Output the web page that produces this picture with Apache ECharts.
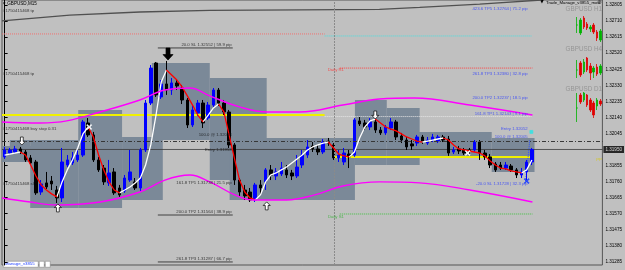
<!DOCTYPE html>
<html>
<head>
<meta charset="utf-8">
<script src="https://cdn.jsdelivr.net/npm/echarts@6/dist/echarts.min.js"></script>
<style>
  html, body { margin: 0; padding: 0; background: #c0c0c0; }
  #chart { width: 625px; height: 270px; }
</style>
</head>
<body>
<div id="chart"></div>
<script>
// GBPUSD M15 candles: [open, close, low, high]
const candles = [
  [1.31906,1.31947,1.31894,1.31965],[1.31929,1.31947,1.31917,1.31959],[1.31935,1.31953,1.31923,1.31971],
  [1.31953,1.31935,1.31923,1.31965],[1.31935,1.31888,1.31876,1.31947],[1.31900,1.31870,1.31858,1.31917],
  [1.31876,1.31693,1.31681,1.31888],[1.31698,1.31746,1.31681,1.31769],[1.31752,1.31728,1.31716,1.31817],
  [1.31763,1.31746,1.31710,1.31793],[1.31710,1.31663,1.31633,1.31734],[1.31663,1.31876,1.31639,1.31959],
  [1.31858,1.31888,1.31846,1.31917],[1.31870,1.31900,1.31858,1.31935],[1.31888,1.31917,1.31876,1.31947],
  [1.31917,1.32113,1.31906,1.32125],[1.32107,1.32036,1.32024,1.32136],[1.32036,1.31888,1.31876,1.32054],
  [1.31888,1.31829,1.31817,1.31906],[1.31840,1.31758,1.31740,1.31858],[1.31752,1.31811,1.31734,1.31888],
  [1.31817,1.31693,1.31681,1.31840],[1.31722,1.31681,1.31669,1.31740],[1.31704,1.31781,1.31693,1.31799],
  [1.31769,1.31817,1.31758,1.31947],[1.31758,1.31722,1.31710,1.31781],[1.31722,1.31947,1.31704,1.31959],
  [1.31947,1.32225,1.31935,1.32243],[1.32225,1.32432,1.32213,1.32450],[1.32462,1.32273,1.32261,1.32468],
  [1.32261,1.32338,1.32249,1.32361],[1.32338,1.32302,1.32273,1.32474],[1.32302,1.32344,1.32273,1.32373],
  [1.32344,1.32326,1.32302,1.32361],[1.32314,1.32243,1.32219,1.32332],[1.32243,1.32095,1.32077,1.32255],
  [1.32095,1.32184,1.32083,1.32213],[1.32166,1.32225,1.32148,1.32243],[1.32225,1.32107,1.32077,1.32243],
  [1.32136,1.32213,1.32125,1.32231],[1.32213,1.32302,1.32202,1.32314],[1.32302,1.32225,1.32208,1.32314],
  [1.32225,1.32172,1.32154,1.32243],[1.32172,1.31977,1.31959,1.32184],[1.31977,1.31769,1.31740,1.31988],
  [1.31769,1.31698,1.31675,1.31781],[1.31710,1.31675,1.31651,1.31740],[1.31698,1.31651,1.31639,1.31722],
  [1.31651,1.31740,1.31639,1.31752],[1.31740,1.31722,1.31681,1.31769],[1.31758,1.31829,1.31710,1.31840],
  [1.31829,1.31799,1.31769,1.31858],[1.31793,1.31817,1.31769,1.31840],[1.31805,1.31840,1.31793,1.31876],
  [1.31829,1.31799,1.31781,1.31858],[1.31811,1.31793,1.31769,1.31829],[1.31793,1.31846,1.31781,1.31917],
  [1.31858,1.31917,1.31840,1.31947],[1.31917,1.31965,1.31900,1.32006],[1.31971,1.31953,1.31935,1.31994],
  [1.31953,1.31935,1.31917,1.31977],[1.31935,1.31994,1.31923,1.32012],[1.32000,1.31988,1.31971,1.32018],
  [1.31977,1.31900,1.31888,1.31988],[1.31900,1.31917,1.31876,1.31947],[1.31876,1.31929,1.31858,1.31959],
  [1.31923,1.31906,1.31840,1.31947],[1.31917,1.32125,1.31906,1.32136],[1.32119,1.32101,1.32089,1.32142],
  [1.32107,1.32083,1.32065,1.32125],[1.32083,1.32113,1.32065,1.32136],[1.32113,1.32065,1.32048,1.32148],
  [1.32065,1.32048,1.32036,1.32083],[1.32048,1.32083,1.32036,1.32095],[1.32077,1.32113,1.32065,1.32136],
  [1.32113,1.32024,1.32006,1.32125],[1.32030,1.32006,1.31988,1.32048],[1.32006,1.31965,1.31947,1.32024],
  [1.31983,1.31971,1.31947,1.32006],[1.31988,1.32024,1.31971,1.32036],[1.32024,1.32000,1.31983,1.32036],
  [1.31988,1.32006,1.31977,1.32024],[1.32006,1.32024,1.31994,1.32042],[1.32000,1.32024,1.31988,1.32036],
  [1.32024,1.32006,1.31994,1.32036],[1.32012,1.31929,1.31912,1.32030],[1.31935,1.31947,1.31923,1.31965],
  [1.31953,1.31941,1.31923,1.31971],[1.31947,1.31929,1.31917,1.31959],[1.31947,1.31941,1.31923,1.31959],
  [1.31947,1.31994,1.31935,1.32006],[1.31994,1.31929,1.31888,1.32006],[1.31929,1.31906,1.31888,1.31947],
  [1.31906,1.31858,1.31840,1.31923],[1.31864,1.31829,1.31817,1.31876],[1.31858,1.31840,1.31829,1.31876],
  [1.31840,1.31858,1.31829,1.31876],[1.31852,1.31829,1.31817,1.31864],[1.31829,1.31799,1.31781,1.31840],
  [1.31799,1.31817,1.31781,1.31840],[1.31817,1.31876,1.31769,1.31888],[1.31876,1.31950,1.31858,1.31959]
];

// smoothed trend indicator, one value per candle (white rising / red falling)
const trend = [
  1.31917,1.31923,1.31929,1.31935,1.31917,1.31858,1.31793,1.31740,1.31710,1.31687,
  1.31669,1.31758,1.31829,1.31888,1.31959,1.32042,1.32083,1.32024,1.31917,1.31829,
  1.31758,1.31710,1.31693,1.31710,1.31728,1.31752,1.31781,1.31858,1.31977,1.32154,
  1.32350,1.32421,1.32391,1.32361,1.32320,1.32267,1.32213,1.32154,1.32113,1.32154,
  1.32196,1.32219,1.32172,1.32036,1.31900,1.31769,1.31698,1.31663,1.31651,1.31681,
  1.31758,1.31799,1.31811,1.31829,1.31846,1.31870,1.31894,1.31917,1.31947,1.31965,
  1.31977,1.31988,1.31994,1.31959,1.31923,1.31912,1.31906,1.31935,1.32018,1.32083,
  1.32119,1.32130,1.32107,1.32083,1.32071,1.32060,1.32042,1.32024,1.32012,1.32000,
  1.31994,1.32000,1.32006,1.32012,1.32018,1.32006,1.31977,1.31953,1.31947,1.31941,
  1.31935,1.31929,1.31912,1.31882,1.31858,1.31840,1.31835,1.31823,1.31817,1.31811,
  1.31829,1.31888
];

// magenta envelope, [bar index, price]
const envUpper = [[-0.5,1.32113],[6.8,1.32107],[11.9,1.32119],[18.3,1.32172],[25.9,1.32243],[30.7,1.32302],
  [35.5,1.32314],[39.3,1.32267],[45.0,1.32202],[50.2,1.32172],[56.5,1.32172],[64.8,1.32213],
  [71.8,1.32249],[78.5,1.32255],[89.1,1.32213],[101.1,1.32154]];
const envLower = [[-0.5,1.31663],[4.9,1.31639],[10.0,1.31621],[18.3,1.31639],[25.9,1.31698],[30.7,1.31769],
  [35.5,1.31799],[39.3,1.31758],[44.1,1.31681],[47.5,1.31651],[54.0,1.31651],[59.4,1.31681],
  [64.8,1.31734],[71.8,1.31758],[79.5,1.31752],[89.1,1.31710],[101.1,1.31639]];

// dark line along the top
const topLine = [[-0.5,1.32711],[12.5,1.32746],[25.9,1.32764],[39.3,1.32773],[56.5,1.32776],
  [71.8,1.32779],[79.5,1.32791],[91.0,1.32811],[102.8,1.32835]];

// shaded ranges: [from bar, to bar, top price, bottom price]
const boxes = [
  [-0.5,7.2,1.31971,1.31876],[1.0,4.9,1.32006,1.31876],[4.9,14.1,1.32006,1.31604],
  [14.1,22.5,1.32184,1.31604],[22.5,30.3,1.32024,1.31651],[28.2,39.3,1.32462,1.32006],
  [39.3,50.2,1.32373,1.31769],[43.1,67.1,1.32018,1.31651],[67.1,73.2,1.32243,1.31858],
  [73.2,79.5,1.32196,1.31858],[78.5,93.3,1.32054,1.31906],[93.3,101.5,1.32018,1.31817]
];

const yTicks = [1.31285,1.31380,1.31475,1.31570,1.31665,1.31760,1.31855,1.31950,1.32045,
  1.32140,1.32235,1.32330,1.32425,1.32520,1.32615,1.32710,1.32805];
const currentPrice = 1.31950;
const sessionBar = 63.2;

// order lines (full width) and their tags
const orderLinePrices = [1.32752, 1.32380, 1.31728];
const orderTagText = ['#1750415468 tp', '#1750415468 tp', '#1750415468 buy stop 0.31', '#1750415468 sl'];
const orderTagPrices = [1.32752, 1.32380, 1.32052, 1.31728];

// fib labels of the right trade
const rightFibText = ['423.6 TP5 1.32764 | 71.2 pip', '261.8 TP3 1.32380 | 32.8 pip', '200.0 TP2 1.32237 | 18.5 pip',
  '161.8 TP1 1.32143 | 9.1 pip', 'Entry 1.32052', '100.0 @ 1.32005', '-20.0 SL 1.31728 | 32.3 pip'];
const rightFibPrices = [1.32764, 1.32380, 1.32237, 1.32143, 1.32052, 1.32005, 1.31728];
// fib labels of the left trade
const leftFibText = ['20.0 SL 1.32552 | 59.9 pip', '100.0 @ 1.32018', 'Entry 1.31953',
  '161.8 TP1 1.31738 | 21.5 pip', '200.0 TP2 1.31564 | 38.9 pip', '261.8 TP3 1.31287 | 66.7 pip'];
const leftFibPrices = [1.32551, 1.32018, 1.31929, 1.31734, 1.31562, 1.31284];
const leftUnderlinePrices = [1.32551, 1.31562, 1.31284];
const leftUnderlineSpan = [29.35, 43.7];

// partial horizontal levels: [from bar, to bar, price]
const pinkLevel = [-0.5, 61.3, 1.32634];
const cyanLevel = [61.3, 100.9, 1.32622];
const yellowUpper = [-0.5, 61.3, 1.32154];
const whiteLevel = [61.3, 100.9, 1.32145];
const yellowLower = [63.2, 101.1, 1.31906];
const dailyR1 = [64.2, 101.1, 1.32432];
const dailyS1 = [64.2, 101.1, 1.31568];
const entryDrop = [[100.6, 1.32005], [99.8, 1.31763]];

// markers [bar, price]
const arrowsDownWhite = [[3.3, 1.32000], [71.0, 1.32154]];
const arrowsUpWhite = [[10.2, 1.31604], [50.2, 1.31616]];
const arrowsDownBlack = [[31.3, 1.32515]];
const crossesWhite = [[16.2, 1.32083], [88.7, 1.31929]];
const crossesBlue = [[100.0, 1.31763]];
const entryMarks = [[100.9, 1.32054]];

// mini charts on the right
const miniH1 = [[1.3225,1.3225,1.3205,1.3245],[1.3205,1.32375,1.3200,1.32425],[1.32425,1.3220,1.3215,1.32475],
  [1.32275,1.32175,1.32125,1.32325],[1.3215,1.3220,1.32075,1.3225],[1.3225,1.32075,1.32025,1.3230],
  [1.32075,1.31925,1.3185,1.32125],[1.31875,1.3210,1.31825,1.3215]];
const miniH4 = [[1.3235,1.3235,1.3195,1.3285],[1.3270,1.3210,1.3200,1.3280],[1.3225,1.3275,1.3215,1.3290],
  [1.3295,1.3235,1.3225,1.3300],[1.3255,1.3220,1.3185,1.3270],[1.3225,1.3245,1.3195,1.3255],
  [1.3250,1.3215,1.3205,1.3265],[1.3220,1.3255,1.3210,1.3265]];
const miniD1 = [[1.3240,1.3240,1.3100,1.3390],[1.3370,1.3300,1.3280,1.3390],[1.3320,1.3390,1.3300,1.3400],
  [1.3370,1.3270,1.3250,1.3380],[1.3320,1.3220,1.3200,1.3340],[1.3290,1.3170,1.3140,1.3310],
  [1.3260,1.3320,1.3220,1.3340],[1.3310,1.3280,1.3260,1.3330]];

const FONT = 'Liberation Sans';
const SLATE = '#7b8998';
const slotCount = candles.length + 13;
const categories = Array.from({length: slotCount}, (_, i) => String(i));
const axisLabelTicks = yTicks.filter(v => v !== currentPrice);

// split trend into rising and falling pieces
const trendUp = trend.map(() => null);
const trendDown = trend.map(() => null);
for (let i = 1; i < trend.length; i++) {
  const part = trend[i] >= trend[i - 1] ? trendUp : trendDown;
  part[i - 1] = trend[i - 1];
  part[i] = trend[i];
}

const spanPoints = s => [[s[0], s[2]], [s[1], s[2]]];

function levelLine(points, color, type, width, z) {
  return {
    type: 'line', xAxisIndex: 1, yAxisIndex: 0, data: points, symbol: 'none', silent: true,
    lineStyle: {color: color, type: type, width: width}, z: z || 3
  };
}

function textSeries(texts, prices, anchor, position, color, dy) {
  return {
    type: 'scatter', xAxisIndex: 1, yAxisIndex: 0, symbolSize: 0, silent: true, z: 8,
    data: texts.map((t, i) => ({name: t, value: [anchor, prices[i]]})),
    label: {
      show: true, formatter: '{b}', position: position, distance: 0, offset: [0, dy],
      color: color, fontSize: 4.3, fontFamily: FONT
    }
  };
}

function markers(points, path, size, fill, stroke) {
  return {
    type: 'scatter', xAxisIndex: 1, yAxisIndex: 0, data: points, symbol: path, symbolSize: size,
    silent: true, z: 7, itemStyle: {color: fill, borderColor: stroke, borderWidth: 0.7, opacity: 1}
  };
}

const DOWN_ARROW = 'path://M3,0L7,0L7,6L10,6L5,11L0,6L3,6Z';
const UP_ARROW = 'path://M5,0L10,5L7,5L7,11L3,11L3,5L0,5Z';
const CROSS = 'path://M0,1L1,0L4,3L7,0L8,1L5,4L8,7L7,8L4,5L1,8L0,7L3,4Z';

function miniCandles(data, gridIndex) {
  return {
    type: 'candlestick', xAxisIndex: gridIndex + 1, yAxisIndex: gridIndex, data: data, barWidth: 2,
    silent: true, itemStyle: {color: '#00b400', color0: '#e00000', borderColor: '#00b400', borderColor0: '#e00000', borderWidth: 0.8}
  };
}

const miniCats = miniH1.map((_, i) => String(i));
const chart = echarts.init(document.getElementById('chart'), null, {renderer: 'canvas'});

chart.setOption({
  animation: false,
  backgroundColor: '#c0c0c0',
  grid: [
    {left: 2, right: 22, top: 0, bottom: 5, show: true, borderColor: '#555', borderWidth: 1, backgroundColor: '#c0c0c0'},
    {left: 575.5, width: 26.4, top: 15, height: 28},
    {left: 575.5, width: 26.4, top: 57, height: 28},
    {left: 575.5, width: 26.4, top: 92, height: 30}
  ],
  xAxis: [
    {type: 'category', data: categories, show: false},
    {type: 'value', min: -0.5, max: slotCount - 0.5, show: false},
    {type: 'category', gridIndex: 1, data: miniCats, show: false},
    {type: 'category', gridIndex: 2, data: miniCats, show: false},
    {type: 'category', gridIndex: 3, data: miniCats, show: false}
  ],
  yAxis: [
    {
      type: 'value', position: 'right', min: 1.31266, max: 1.32835,
      axisLine: {show: true, lineStyle: {color: '#000', width: 1}},
      axisTick: {show: true, length: 3, customValues: yTicks, lineStyle: {color: '#000'}},
      axisLabel: {customValues: axisLabelTicks, formatter: v => v.toFixed(5), fontSize: 4.6, color: '#000', margin: 3, fontFamily: FONT},
      splitLine: {show: false}
    },
    {type: 'value', gridIndex: 1, min: 1.3180, max: 1.3250, show: false},
    {type: 'value', gridIndex: 2, min: 1.3160, max: 1.3300, show: false},
    {type: 'value', gridIndex: 3, min: 1.3100, max: 1.3400, show: false}
  ],
  graphic: [
    {type: 'text', left: 3, top: 1, style: {text: '\u25BE GBPUSD,M15', fontSize: 4.6, fill: '#000', fontFamily: FONT}},
    {type: 'text', left: 540, top: -1, style: {text: '\u25BC', fontSize: 5, fill: '#000', fontFamily: 'DejaVu Sans'}},
    {type: 'text', left: 546, top: 1, style: {text: 'Trade_Manage_v3855_mod', fontSize: 4.3, fill: '#000', fontFamily: FONT}},
    {type: 'text', left: 597, top: 0, style: {text: '\u2699', fontSize: 5.5, fill: '#333', fontFamily: 'DejaVu Sans'}},
    {type: 'text', right: 23, top: 6, style: {text: 'GBPUSD H1', fontSize: 6.3, fill: '#959595', fontFamily: FONT}},
    {type: 'text', right: 23, top: 46, style: {text: 'GBPUSD H4', fontSize: 6.3, fill: '#959595', fontFamily: FONT}},
    {type: 'text', right: 23, top: 86, style: {text: 'GBPUSD D1', fontSize: 6.3, fill: '#959595', fontFamily: FONT}},
    {type: 'rect', left: 3, top: 261, shape: {width: 35, height: 6}, style: {fill: '#fff', stroke: '#7a7a7a', lineWidth: 0.5}},
    {type: 'text', left: 5, top: 262, style: {text: 'Manage_v3855', fontSize: 4.3, fill: '#2040ff', fontFamily: FONT}},
    {type: 'rect', left: 39, top: 261, shape: {width: 5, height: 6}, style: {fill: '#fff', stroke: '#7a7a7a', lineWidth: 0.5}},
    {type: 'rect', left: 45, top: 261, shape: {width: 5, height: 6}, style: {fill: '#fff', stroke: '#7a7a7a', lineWidth: 0.5}}
  ],
  series: [
    {
      type: 'custom', xAxisIndex: 1, yAxisIndex: 0, data: boxes, silent: true, z: 1,
      encode: {x: [0, 1], y: [2, 3]},
      renderItem: (params, api) => {
        const a = api.coord([api.value(0), api.value(2)]);
        const b = api.coord([api.value(1), api.value(3)]);
        return {type: 'rect', shape: {x: a[0], y: a[1], width: b[0] - a[0], height: b[1] - a[1]}, style: {fill: SLATE}};
      }
    },
    // full-width lines
    {
      type: 'line', xAxisIndex: 1, yAxisIndex: 0, data: topLine, symbol: 'none', silent: true, z: 3,
      lineStyle: {color: '#505050', width: 1.3},
      markLine: {
        symbol: 'none', silent: true, animation: false, label: {show: false},
        data: orderLinePrices.map(p => ({yAxis: p, lineStyle: {color: '#333', type: [4, 2, 1, 2], width: 0.8}}))
          .concat([{xAxis: sessionBar, lineStyle: {color: '#8a8a8a', type: [2, 1], width: 1}}])
      }
    },
    levelLine([[-0.5, currentPrice], [slotCount - 0.5, currentPrice]], '#3a3a3a', 'solid', 0.8),
    {
      type: 'scatter', xAxisIndex: 1, yAxisIndex: 0, symbolSize: 0, silent: true, z: 9,
      data: [{name: currentPrice.toFixed(5), value: [slotCount - 0.5, currentPrice]}],
      label: {show: true, formatter: '{b}', position: 'right', distance: 1, backgroundColor: '#000', color: '#fff',
        fontSize: 4.6, padding: [1, 2], fontFamily: FONT}
    },
    levelLine(spanPoints(pinkLevel), '#f07070', [1, 1], 1),
    levelLine(spanPoints(cyanLevel), '#40e0e0', [1, 1], 1),
    levelLine(spanPoints(yellowUpper), '#f0f000', 'solid', 2),
    levelLine(spanPoints(whiteLevel), '#e8e8e8', [1, 1], 1),
    levelLine(spanPoints(yellowLower), '#f0f000', 'solid', 2),
    levelLine(spanPoints(dailyR1), '#ff4040', [1, 1], 1),
    levelLine(spanPoints(dailyS1), '#40c040', [1, 1], 1),
    levelLine(entryDrop, '#3050ff', [1, 1], 1),
    ...leftUnderlinePrices.map(p => levelLine([[leftUnderlineSpan[0], p], [leftUnderlineSpan[1], p]], '#222', 'solid', 0.8)),
    {
      type: 'candlestick', xAxisIndex: 0, yAxisIndex: 0, data: candles, barWidth: 3, silent: true, z: 4,
      itemStyle: {color: '#0000ff', color0: '#000000', borderColor: '#0000ff', borderColor0: '#000000', borderWidth: 1}
    },
    {type: 'line', xAxisIndex: 0, data: trendUp, symbol: 'none', silent: true, z: 5, connectNulls: false, lineStyle: {color: '#ffffff', width: 1.3}},
    {type: 'line', xAxisIndex: 0, data: trendDown, symbol: 'none', silent: true, z: 5, connectNulls: false, lineStyle: {color: '#ff0000', width: 1.3}},
    {type: 'line', xAxisIndex: 1, data: envUpper, symbol: 'none', smooth: 0.4, silent: true, z: 5, lineStyle: {color: '#ff00ff', width: 1.4}},
    {type: 'line', xAxisIndex: 1, data: envLower, symbol: 'none', smooth: 0.4, silent: true, z: 5, lineStyle: {color: '#ff00ff', width: 1.4}},
    markers(arrowsDownWhite, DOWN_ARROW, [7, 8], '#fff', '#000'),
    markers(arrowsUpWhite, UP_ARROW, [7, 8], '#fff', '#000'),
    markers(arrowsDownBlack, DOWN_ARROW, [10, 12], '#000', '#000'),
    markers(crossesWhite, CROSS, 5, '#fff', '#fff'),
    markers(crossesBlue, CROSS, 5, '#2040ff', '#2040ff'),
    markers(entryMarks, 'rect', [3, 3], '#40e0e0', '#40e0e0'),
    textSeries(orderTagText, orderTagPrices, -0.3, 'right', '#111', -3),
    textSeries(rightFibText, rightFibPrices, 100.2, 'left', '#2a3cff', -3),
    textSeries(leftFibText, leftFibPrices, 43.5, 'left', '#111', -3),
    textSeries(['Daily R1'], [1.32421], 65, 'left', '#ff3030', 0),
    textSeries(['Daily S1'], [1.31550], 65, 'left', '#30b030', 0),
    textSeries(['PP'], [1.31888], 114.4, 'left', '#d8c800', 0),
    miniCandles(miniH1, 1),
    miniCandles(miniH4, 2),
    miniCandles(miniD1, 3)
  ]
});
</script>
</body>
</html>
